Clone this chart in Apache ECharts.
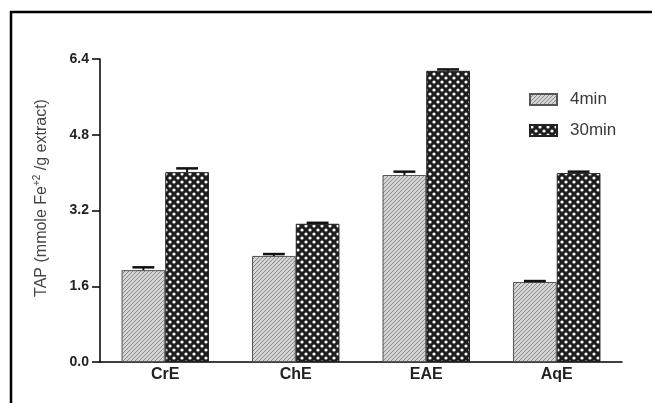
<!DOCTYPE html>
<html>
<head>
<meta charset="utf-8">
<script src="https://cdn.jsdelivr.net/npm/echarts@6/dist/echarts.min.js"></script>
<style>
  html, body { margin: 0; padding: 0; background: #fff; }
  #chart { width: 652px; height: 403px; }
</style>
</head>
<body>
<div id="chart"></div>
<script>
// Extracts and incubation times
const categories = ['CrE', 'ChE', 'EAE', 'AqE'];
const seriesNames = ['4min', '30min'];
// Total antioxidant power, mmole Fe+2 / g extract
const tap4min = [1.94, 2.24, 3.95, 1.69];
const tap30min = [4.01, 2.92, 6.15, 3.99];
// Standard error (upper whisker)
const err4min = [0.06, 0.04, 0.07, 0.02];
const err30min = [0.08, 0.02, 0.03, 0.03];
const yTicks = [0, 1.6, 3.2, 4.8, 6.4];

const FONT = '"Liberation Sans", Arial, sans-serif';

// Fine diagonal hatching for the short incubation
function hatchPattern() {
  const c = document.createElement('canvas');
  c.width = 4; c.height = 4;
  const g = c.getContext('2d');
  g.fillStyle = '#d4d4d4';
  g.fillRect(0, 0, 4, 4);
  g.strokeStyle = '#8a8a8a';
  g.lineWidth = 1;
  g.beginPath();
  g.moveTo(-1, 5); g.lineTo(5, -1);
  g.moveTo(-1, 1); g.lineTo(1, -1);
  g.moveTo(3, 5); g.lineTo(5, 3);
  g.stroke();
  return c;
}

// Dark mesh with white dots for the long incubation
function dotPattern() {
  const s = 8;
  const c = document.createElement('canvas');
  c.width = s; c.height = s;
  const g = c.getContext('2d');
  g.fillStyle = '#1e1e1e';
  g.fillRect(0, 0, s, s);
  g.fillStyle = '#ffffff';
  [[2, 2], [6, 6]].forEach(function (p) {
    g.beginPath();
    g.arc(p[0], p[1], 1.6, 0, Math.PI * 2);
    g.fill();
  });
  return c;
}

const hatch = { image: hatchPattern(), repeat: 'repeat' };
const dots = { image: dotPattern(), repeat: 'repeat' };

const BAR_CAT_GAP = 0.33;

// Upper whisker + cap on each bar, placed through the category/value scales
function errorSeries(values, errs, side) {
  return {
    type: 'custom',
    z: 5,
    silent: true,
    data: values.map(function (v, i) { return [i, v, v + errs[i]]; }),
    renderItem: function (params, api) {
      const i = api.value(0);
      const base = api.coord([i, api.value(1)]);
      const top = api.coord([i, api.value(2)]);
      const band = api.size([1, 0])[0];
      const barW = band * (1 - BAR_CAT_GAP) / 2;
      const x = base[0] + side * barW / 2;
      const cap = barW * 0.5;
      const style = { stroke: '#111', lineWidth: 2 };
      return {
        type: 'group',
        children: [
          { type: 'line', shape: { x1: x, y1: base[1], x2: x, y2: top[1] }, style: style },
          { type: 'line', shape: { x1: x - cap / 2, y1: top[1], x2: x + cap / 2, y2: top[1] }, style: { stroke: '#111', lineWidth: 2.5 } }
        ]
      };
    }
  };
}

const chart = echarts.init(document.getElementById('chart'));
chart.setOption({
  backgroundColor: '#ffffff',
  animation: false,
  graphic: [
    {
      type: 'rect',
      shape: { x: 11, y: 12, width: 700, height: 450 },
      style: { fill: 'none', stroke: '#000', lineWidth: 2.5 },
      silent: true
    },
    {
      // value-axis title, with the superscript charge on Fe
      type: 'text',
      x: 42, y: 198,
      rotation: Math.PI / 2,
      silent: true,
      style: {
        text: 'TAP (mmole Fe{sup|+2} /g extract)',
        align: 'center',
        verticalAlign: 'middle',
        fontFamily: FONT, fontSize: 16, fill: '#444',
        rich: { sup: { fontFamily: FONT, fontSize: 10, fill: '#444', padding: [0, 0, 9, 0] } }
      }
    }
  ],
  legend: {
    orient: 'vertical',
    left: 524,
    top: 86,
    itemWidth: 27,
    itemHeight: 11,
    itemGap: 14,
    icon: 'rect',
    data: seriesNames,
    textStyle: { fontFamily: FONT, fontSize: 17, color: '#3a3a3a', padding: [0, 0, 0, 8] }
  },
  grid: { left: 100, right: 30, top: 59, bottom: 41 },
  xAxis: {
    type: 'category',
    data: categories,
    axisLine: { lineStyle: { color: '#000', width: 1.5 } },
    axisTick: { show: false },
    axisLabel: { fontFamily: FONT, fontSize: 16, fontWeight: 'bold', color: '#222', margin: 5 }
  },
  yAxis: {
    type: 'value',
    min: yTicks[0],
    max: yTicks[yTicks.length - 1],
    interval: yTicks[1] - yTicks[0],
    splitLine: { show: false },
    axisLine: { show: true, lineStyle: { color: '#000', width: 1.5 } },
    axisTick: { show: true, length: 8, lineStyle: { color: '#000', width: 1.5 } },
    axisLabel: {
      fontFamily: FONT, fontSize: 14, fontWeight: 'bold', color: '#222', margin: 11,
      formatter: function (v) { return v.toFixed(1); }
    }
  },
  series: [
    {
      name: seriesNames[0], type: 'bar', data: tap4min,
      barGap: '0%', barCategoryGap: (BAR_CAT_GAP * 100) + '%',
      itemStyle: { color: hatch, borderColor: '#555', borderWidth: 1 }
    },
    {
      name: seriesNames[1], type: 'bar', data: tap30min,
      barGap: '0%', barCategoryGap: (BAR_CAT_GAP * 100) + '%',
      itemStyle: { color: dots, borderColor: '#222', borderWidth: 1 }
    },
    errorSeries(tap4min, err4min, -1),
    errorSeries(tap30min, err30min, 1)
  ]
});
</script>
</body>
</html>
